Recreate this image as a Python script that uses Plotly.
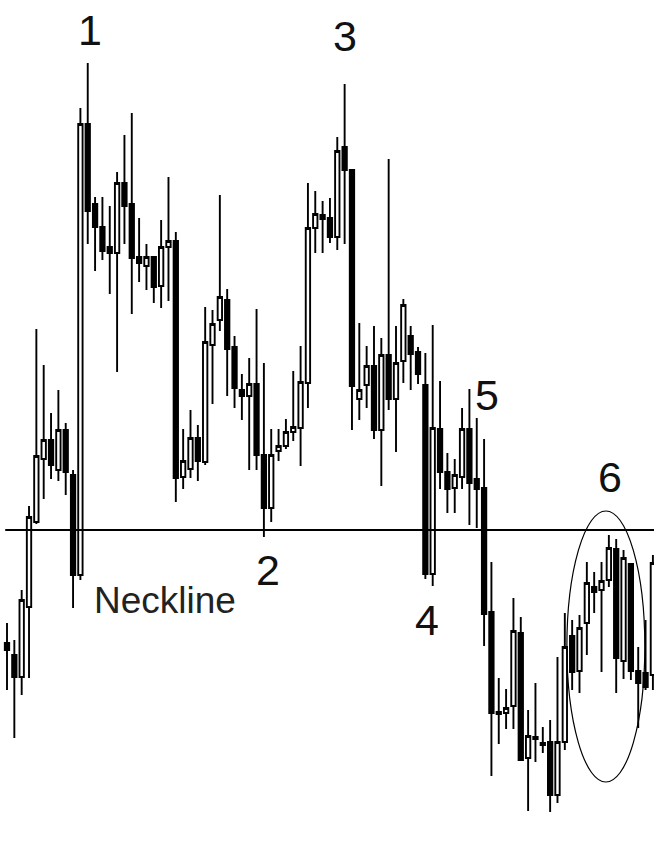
import plotly.graph_objects as go

# Candle data (arbitrary price units), one entry per bar
bar_index = list(range(89))
open_ = [198, 186, 164, 234, 319, 382, 401, 371, 411, 366, 266, 717, 637, 614, 594, 588, 658, 637, 584, 575,
         584, 555, 594, 600, 364, 372, 403, 379, 496, 521, 541, 494, 451, 445, 457, 386, 333, 390, 395, 409,
         413, 458, 613, 626, 623, 604, 694, 671, 442, 456, 475, 411, 486, 442, 480, 505, 489, 456, 267, 412,
         369, 353, 364, 412, 362, 353, 229, 129, 128, 135, 208, 83, 104, 98, 99, 46, 99, 205, 170, 218,
         254, 251, 261, 292, 180, 277, 170, 168, 166]
high = [218, 201, 251, 335, 512, 476, 428, 451, 418, 371, 733, 778, 644, 644, 635, 669, 706, 728, 623, 597,
        584, 621, 664, 609, 412, 431, 416, 534, 531, 646, 552, 505, 467, 483, 532, 478, 412, 412, 422, 470,
        495, 658, 650, 640, 643, 704, 757, 671, 518, 495, 515, 503, 682, 515, 542, 515, 494, 488, 516, 460,
        388, 382, 433, 452, 423, 402, 279, 163, 152, 243, 224, 131, 158, 114, 121, 184, 228, 221, 226, 279,
        269, 279, 306, 302, 291, 277, 194, 221, 286]
low = [151, 103, 146, 163, 317, 342, 362, 360, 346, 233, 261, 597, 570, 581, 547, 469, 597, 527, 559, 551,
       538, 533, 540, 339, 352, 363, 360, 376, 437, 510, 445, 433, 421, 371, 371, 304, 319, 380, 392, 400,
       375, 433, 588, 588, 598, 591, 597, 411, 421, 433, 402, 355, 431, 389, 458, 451, 457, 262, 255, 352,
       328, 328, 352, 316, 313, 195, 65, 97, 112, 112, 81, 30, 79, 88, 29, 38, 91, 151, 148, 186,
       228, 169, 254, 148, 162, 161, 113, 151, 151]
close = [191, 164, 241, 324, 385, 401, 376, 411, 369, 266, 717, 630, 614, 590, 588, 658, 635, 583, 578, 584,
         554, 594, 600, 363, 380, 403, 380, 499, 517, 544, 492, 453, 445, 457, 386, 333, 386, 395, 409, 414,
         459, 613, 627, 622, 604, 690, 671, 455, 451, 475, 411, 486, 442, 478, 536, 487, 467, 267, 413, 369,
         352, 366, 412, 358, 352, 227, 128, 127, 133, 210, 81, 105, 102, 96, 46, 99, 194, 169, 213, 258,
         249, 260, 293, 183, 283, 170, 158, 154, 278]

neckline_level = 311
point_labels = ["1", "2", "3", "4", "5", "6"]
point_x = [11.3, 35.55, 46.0, 57.2, 65.4, 82.1]
point_y = [811, 271, 805, 221, 446, 364]
neck_label = "Neckline"
neck_label_x = 21.5
neck_label_y = 241
circle_x = [76.28, 86.9]
circle_y = [59, 330]

FONT = "Liberation Sans Narrow, Liberation Sans, Arial, sans-serif"

fig = go.Figure()
fig.add_trace(go.Candlestick(
    x=bar_index, open=open_, high=high, low=low, close=close,
    increasing=dict(line=dict(color="black", width=1.9), fillcolor="white"),
    decreasing=dict(line=dict(color="black", width=1.9), fillcolor="black"),
    whiskerwidth=0, showlegend=False, hoverinfo="skip",
))

fig.add_shape(type="line", xref="paper", x0=0.008, x1=1, yref="y", y0=neckline_level, y1=neckline_level,
              line=dict(color="black", width=2))
fig.add_shape(type="circle", xref="x", yref="y", x0=circle_x[0], x1=circle_x[1], y0=circle_y[0], y1=circle_y[1],
              line=dict(color="black", width=1.2))

for t, x, y in zip(point_labels, point_x, point_y):
    fig.add_annotation(x=x, y=y, text=t, showarrow=False, xanchor="center", yanchor="middle",
                       font=dict(family=FONT, size=43, color="#111"))
fig.add_annotation(x=neck_label_x, y=neck_label_y, text=neck_label, showarrow=False,
                   xanchor="center", yanchor="middle", font=dict(family=FONT, size=37, color="#222"))

fig.update_layout(
    width=654, height=841, margin=dict(l=0, r=0, t=0, b=0),
    paper_bgcolor="white", plot_bgcolor="white",
    xaxis=dict(visible=False, range=[-0.954, 88.15], rangeslider=dict(visible=False)),
    yaxis=dict(visible=False, range=[0, 841]),
    boxgap=0.15,
    showlegend=False,
)

fig.write_html("out.html", config={"displayModeBar": False},
               post_script="document.body.style.margin='0';document.body.style.overflow='hidden';")
